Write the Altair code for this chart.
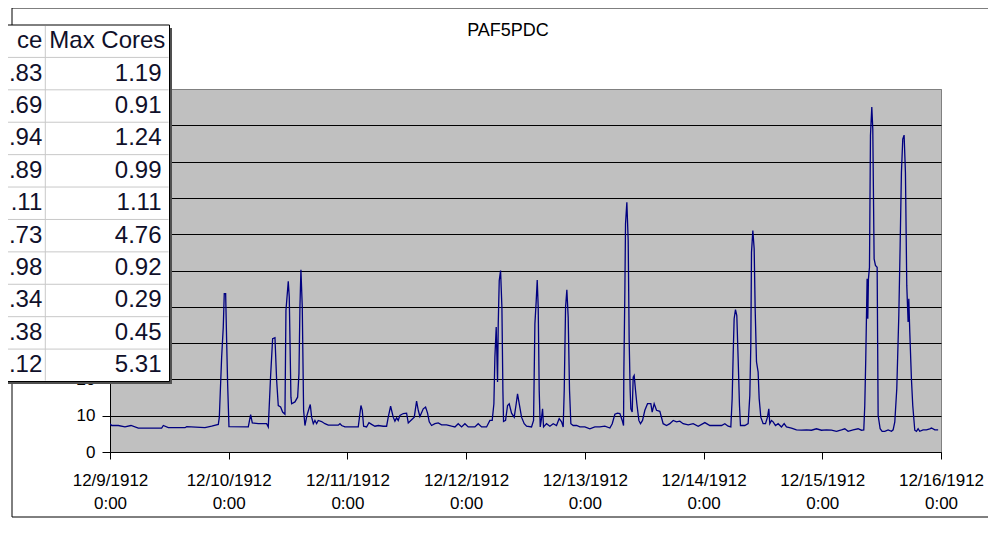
import altair as alt
import pandas as pd

# ---------------- data ----------------
hours = [
    0, 0.34, 1.68, 3.03, 4.24, 5.73, 10.44, 10.78, 11.79, 15.16, 15.5, 19.2, 20.55, 21.9,
    22.1, 22.57, 22.9, 23.1, 23.38, 23.58, 23.78, 24.05, 27.96, 28.43, 28.77, 29.98, 31.66,
    32.0, 32.47, 32.88, 33.35, 33.69, 34.02, 34.49, 34.9, 35.37, 35.57, 36.04, 36.24, 36.58,
    36.72, 37.39, 37.93, 38.2, 38.4, 38.6, 38.87, 39.14, 39.41, 39.82, 40.22, 40.49, 40.76,
    41.1, 41.43, 41.77, 42.1, 42.78, 43.45, 44.13, 46.15, 46.49, 46.82, 47.5, 50.19, 50.73,
    51.0, 51.27, 51.87, 52.35, 52.89, 53.56, 54.23, 55.24,
    55.92, 56.25, 56.73, 57.26, 57.6, 57.94, 58.27, 58.61, 59.29, 59.96, 60.3, 60.97, 61.51,
    61.98, 62.32, 62.65, 63.33, 63.8, 64.2, 64.54, 65.01, 65.69, 66.36, 67.03, 68.04, 69.06,
    69.73, 70.4, 71.08, 71.75, 72.42, 73.77, 74.44, 75.12, 76.13, 76.8, 77.27, 77.61, 77.81,
    78.08, 78.35, 78.49, 78.69, 78.96, 79.23, 79.43, 79.56, 79.97, 80.37, 80.71, 81.18, 81.72,
    82.12, 82.39, 82.73, 83.2, 83.74, 84.21, 85.22, 85.63, 85.9, 86.17, 86.37, 86.57, 86.77,
    86.98, 87.18, 87.45, 87.65, 88.25, 88.93, 89.6, 90.27, 90.81, 91.29, 91.62, 91.83, 92.1,
    92.36, 92.63, 92.9, 93.17, 93.64, 94.32, 94.99, 96.0, 97.01, 98.02, 99.03, 100.04, 101.06,
    101.53, 102.07, 102.6, 103.08, 103.55, 103.82, 103.88, 104.09, 104.22, 104.49, 104.76,
    104.96, 105.16, 105.3, 105.57, 105.77, 105.97, 106.24, 106.51, 106.92, 107.25, 107.66,
    108.13, 108.67,
    109.34, 109.61, 110.01, 110.49, 111.16, 111.83, 112.51, 113.18, 113.86, 114.53, 115.2,
    115.87, 116.89, 117.9, 118.91, 120.26, 121.27, 123.63, 124.3, 124.97, 125.51, 125.78,
    125.98, 126.18, 126.45, 126.72, 126.99, 127.26, 127.46, 128.34, 129.01, 129.35, 129.55,
    129.69, 129.96, 130.23, 130.43, 130.7, 131.03, 131.24, 131.57, 132.04, 132.52, 132.92,
    133.19, 133.39, 133.73, 134.06, 134.54, 135.08, 135.75, 136.29, 136.76, 137.77, 138.78,
    139.79, 140.8, 141.81, 142.82, 143.83, 144.85, 145.86, 146.87, 147.88, 148.55, 149.22,
    150.23, 151.24, 151.92, 152.39, 152.59, 152.79, 153.06, 153.2, 153.33, 153.54, 153.74,
    154.01, 154.21, 154.48, 154.75, 155.09, 155.29, 155.7, 156.1, 156.64, 157.31, 157.99,
    158.32, 158.66, 159.06, 159.47, 159.74, 160.0, 160.27, 160.54, 160.81, 161.08, 161.35,
    161.49, 161.69, 162.02, 162.29, 162.7, 163.03, 163.37, 163.7, 164.38, 165.05, 165.73,
    166.07, 166.75, 167.42,
]
cpu = [
    7.8, 7.3, 7.3, 6.9, 7.3, 6.6, 6.6, 7.3, 6.7, 6.7, 7.0, 6.7, 7.1, 7.6,
    9.6, 26.1, 34.4, 43.6, 43.6, 30.7, 18.8, 7.0, 6.9, 10.3, 8.0, 7.8, 7.8,
    6.9, 21.0, 31.2, 31.5, 19.7, 12.8, 12.4, 11.0, 10.4, 39.0, 47.0, 42.7, 15.1,
    13.3, 13.8, 15.1, 21.6, 40.0, 50.2, 40.0, 11.5, 7.3, 10.1, 11.9, 13.1, 9.6,
    7.8, 8.7, 7.8, 8.7, 8.4, 7.8, 7.4, 7.4, 7.8, 7.3, 6.9, 6.9, 12.8,
    11.5, 7.1, 6.9, 8.1, 7.6, 7.1, 7.3, 7.1,
    7.1, 9.6, 12.6, 9.6, 8.5, 9.4, 8.7, 10.1, 10.6, 10.7, 8.0, 8.9, 9.6,
    14.0, 11.5, 9.8, 11.9, 12.4, 10.7, 8.3, 7.3, 7.8, 8.0, 7.5, 7.5, 7.1,
    6.9, 7.8, 6.9, 7.8, 6.9, 6.9, 7.8, 6.9, 6.9, 8.7, 8.7, 13.3, 26.1,
    34.4, 19.3, 35.3, 47.2, 50.0, 39.9, 17.0, 8.4, 8.7, 12.8, 13.3, 10.7, 9.6,
    13.3, 16.0, 13.3, 9.6, 7.8, 7.1, 6.9, 8.7, 35.3, 41.7, 47.4, 39.9, 17.0,
    6.9, 8.7, 11.9, 6.9, 7.8, 7.1, 7.8, 7.3, 9.2, 8.3, 6.9, 17.0, 39.9,
    44.7, 37.2, 17.0, 7.8, 7.3, 7.3, 6.9, 6.9, 6.4, 6.9, 6.9, 7.1, 6.6,
    7.8, 10.4, 10.7, 10.6, 8.7, 7.3, 21.6, 44.5, 62.8, 68.8, 58.3,
    30.7, 17.0, 11.9, 11.0, 20.6, 21.1, 17.0, 13.3, 8.7, 7.8, 8.7,
    11.5, 13.3,
    13.3, 11.0, 13.3, 11.5, 11.2, 7.8, 7.3, 7.8, 8.7, 8.3, 8.5,
    7.8, 7.5, 7.8, 7.1, 8.1, 7.3, 7.3, 7.8, 7.1, 6.9, 14.7,
    26.6, 36.7, 39.2, 37.6, 25.7, 12.8, 7.3, 7.3, 7.8, 15.6, 29.4,
    55.0, 61.0, 56.0, 39.4, 24.8, 22.0, 14.7, 9.6, 7.8, 7.8, 9.6,
    11.9, 7.8, 8.7, 8.3, 7.3, 7.8, 6.9, 7.8, 6.9, 6.6, 6.1,
    6.0, 6.1, 6.0, 6.4, 6.0, 6.1, 6.0, 5.7, 6.1, 6.4, 5.7,
    6.1, 6.4, 6.0, 6.1, 12.8, 25.7, 47.7, 36.7, 47.7, 50.9, 87.2,
    95.0, 89.0, 53.2, 51.4, 50.9, 10.1, 6.4, 5.7, 5.7, 6.1, 5.7,
    6.1, 8.3, 17.4, 37.6, 56.9, 77.0, 86.2, 87.3, 77.0, 45.9, 35.8,
    42.2, 33.0, 20.2, 12.8, 6.0, 5.7, 6.4, 5.7, 6.1, 6.1, 6.4,
    6.6, 6.1, 6.1,
]

day_labels = ["12/9/1912", "12/10/1912", "12/11/1912", "12/12/1912",
              "12/13/1912", "12/14/1912", "12/15/1912", "12/16/1912"]
time_label = "0:00"
x_tick_hours = [0, 24, 48, 72, 96, 120, 144, 168]
y_ticks = [0, 10, 20, 30, 40, 50, 60, 70, 80, 90, 100]

title_text = "PAF5PDC"

table_header = ["ce", "Max Cores"]
table_col1 = [".83", ".69", ".94", ".89", ".11", ".73", ".98", ".34", ".38", ".12"]
max_cores = [1.19, 0.91, 1.24, 0.99, 1.11, 4.76, 0.92, 0.29, 0.45, 5.31]

# ---------------- layout / style ----------------
W, H = 831, 363
FONT = "Liberation Sans"
TXT = "#10102a"

line_df = pd.DataFrame({"hour": hours, "value": cpu})
one = pd.DataFrame({"k": [0]})

label_expr = "[" + ",".join(f"['{d}','{time_label}']" for d in day_labels) + "][round(datum.value / 24)]"

x_enc = alt.X(
    "hour:Q",
    scale=alt.Scale(domain=[0, 168], nice=False, zero=False),
    axis=alt.Axis(values=x_tick_hours, labelExpr=label_expr, title=None, grid=False,
                  domainColor="black", domainWidth=1, tickColor="black", tickSize=7,
                  labelFont=FONT, labelFontSize=17, labelColor="black",
                  labelLineHeight=23, labelPadding=13, labelFlush=False, labelOverlap=False),
)
y_enc = alt.Y(
    "value:Q",
    scale=alt.Scale(domain=[0, 100], nice=False),
    axis=alt.Axis(values=y_ticks, title=None, grid=True,
                  gridColor={"condition": {"test": "datum.value == 100", "value": "#808080"},
                             "value": "#000000"},
                  gridWidth=1, gridOpacity=1,
                  domainColor="black", domainWidth=1, tickColor="black", tickSize=8,
                  labelPadding=7, labelFont=FONT, labelFontSize=17, labelColor="black"),
)

border = alt.Chart(one).mark_rect(fillOpacity=0, stroke="black", strokeWidth=1).encode(
    x=alt.value(-98), x2=alt.value(900), y=alt.value(-81), y2=alt.value(428))

line = alt.Chart(line_df).mark_line(color="#000080", strokeWidth=1.3, clip=True).encode(
    x=x_enc, y=y_enc)

title = alt.Chart(one).mark_text(text=title_text, font=FONT, fontSize=18, color="black",
                                 align="center", baseline="middle").encode(
    x=alt.value(398), y=alt.value(-58))

# table (shifted a little right so the cut first column stays readable)
SHIFT = 8
T_TOP, T_BOT, T_LEFT, T_RIGHT = -64, 292.5, -115, 51.5 + SHIFT
COL_SEP = -72.7 + SHIFT
tbl_scale = alt.Scale(domain=[0, 11], range=[T_TOP, T_BOT], nice=False, zero=False)

shadow = alt.Chart(one).mark_rect(fill="#505050").encode(
    x=alt.value(T_LEFT), x2=alt.value(T_RIGHT + 2.5), y=alt.value(T_TOP + 3), y2=alt.value(T_BOT + 2.5))
tbl_bg = alt.Chart(one).mark_rect(fill="white", stroke="black", strokeWidth=1).encode(
    x=alt.value(T_LEFT), x2=alt.value(T_RIGHT), y=alt.value(T_TOP), y2=alt.value(T_BOT))

rows_df = pd.DataFrame({"r": list(range(1, 11))})
row_rules = alt.Chart(rows_df).mark_rule(color="#c8c8c8", strokeWidth=1).encode(
    y=alt.Y("r:Q", scale=tbl_scale, axis=None),
    x=alt.value(T_LEFT), x2=alt.value(T_RIGHT - 1))
col_rule = alt.Chart(one).mark_rule(color="#c8c8c8", strokeWidth=1).encode(
    x=alt.value(COL_SEP), y=alt.value(T_TOP + 1), y2=alt.value(T_BOT - 1))

body_df = pd.DataFrame({"row": list(range(1, 11)), "c1": table_col1, "mc": max_cores})
body_c1 = alt.Chart(body_df).transform_calculate(rc="datum.row + 0.5").mark_text(
    align="right", baseline="middle", font=FONT, fontSize=24, color=TXT).encode(
    x=alt.value(COL_SEP - 3), y=alt.Y("rc:Q", scale=tbl_scale, axis=None), text="c1:N")
body_c2 = alt.Chart(body_df).transform_calculate(rc="datum.row + 0.5").mark_text(
    align="right", baseline="middle", font=FONT, fontSize=24, color=TXT).encode(
    x=alt.value(T_RIGHT - 8), y=alt.Y("rc:Q", scale=tbl_scale, axis=None),
    text=alt.Text("mc:Q", format=".2f"))

head_df = pd.DataFrame({"row": [0], "h1": [table_header[0]], "h2": [table_header[1]]})
head_c1 = alt.Chart(head_df).transform_calculate(rc="datum.row + 0.5").mark_text(
    align="right", baseline="middle", font=FONT, fontSize=24, color=TXT).encode(
    x=alt.value(COL_SEP - 3), y=alt.Y("rc:Q", scale=tbl_scale, axis=None), text="h1:N")
head_c2 = alt.Chart(head_df).transform_calculate(rc="datum.row + 0.5").mark_text(
    align="left", baseline="middle", font=FONT, fontSize=24, color=TXT).encode(
    x=alt.value(COL_SEP + 4), y=alt.Y("rc:Q", scale=tbl_scale, axis=None), text="h2:N")

chart = alt.layer(
    border, line, title, shadow, tbl_bg, row_rules, col_rule,
    body_c1, body_c2, head_c1, head_c2,
).resolve_scale(y="independent").properties(
    width=W, height=H,
    padding={"left": 102, "top": 81, "right": 47, "bottom": 66},
    autosize=alt.AutoSizeParams(type="none"),
    background="white",
).configure_view(fill="#c0c0c0", stroke="#808080", strokeWidth=1)

chart.save("out.html", embed_options={"renderer": "svg", "actions": False})
